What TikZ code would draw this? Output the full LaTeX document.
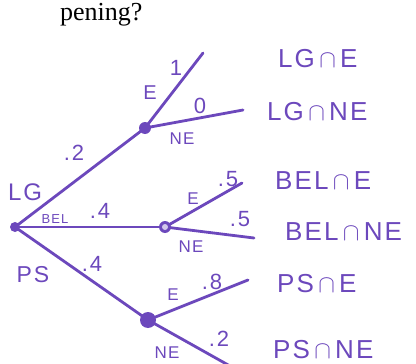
\documentclass[tikz,border=0pt]{standalone}
\usepackage{amsmath,amssymb}
\usepackage{fontspec}
\setmainfont{Liberation Serif}
\newfontfamily\handfont[LetterSpace=8]{Liberation Sans}
\usetikzlibrary{positioning}
\definecolor{PenPurple}{RGB}{108,72,188}
\newcommand{\outcome}[3]{%
  \node[leaf] (#1) at (#2) {#3};}

\begin{document}
\begin{tikzpicture}[x=1pt,y=-1pt,
  knot/.style={circle,fill=PenPurple,inner sep=0pt,minimum size=#1},
  knot/.default=10pt,
  branch/.style={PenPurple,line width=2.8pt,line cap=round},
  prob/.style={PenPurple,font=\handfont\fontsize{22}{22}\selectfont},
  tag/.style={PenPurple,font=\handfont\fontsize{17}{17}\selectfont},
  leaf/.style={PenPurple,anchor=base west,inner sep=0pt,
    font=\handfont\fontsize{26}{26}\selectfont}]
  \useasboundingbox (0,0) rectangle (416,364);
  \node[anchor=base west,inner sep=0pt,font=\fontsize{26}{26}\selectfont] (title) at (60,20) {pening?};
  % tree knots
  \node[knot=10pt] (root) at (15,227) {};
  \node[knot=12pt] (lg) at (145,128) {};
  \node[knot=12pt] (bel) at (165,227) {};
  \node[knot=16pt] (ps) at (148,320) {};
  \coordinate (lgE) at (203,53);
  \coordinate (lgNE) at (243,110);
  \coordinate (belE) at (242,183);
  \coordinate (belNE) at (254,238);
  \coordinate (psE) at (248,280);
  \coordinate (psNE) at (230,366);
  % branches
  \draw[branch] (root.center) -- (lg.center);
  \draw[branch] (root.center) -- (bel.center);
  \draw[branch] (root.center) -- (ps.center);
  \draw[branch] (lg.center) -- (lgE);
  \draw[branch] (lg.center) -- (lgNE);
  \draw[branch] (bel.center) -- (belE);
  \draw[branch] (bel.center) -- (belNE);
  \draw[branch] (ps.center) -- (psE);
  \draw[branch] (ps.center) -- (psNE);
  \fill[white!70!PenPurple] (bel.center) circle (3pt);
  % first stage labels
  \node[prob,font=\handfont\fontsize{24}{24}\selectfont] (lgTag) at (25,192) {LG};
  \node[prob] (lgP) at (74,153) {.2};
  \node[PenPurple,font=\handfont\fontsize{13}{13}\selectfont] (belTag) at (55,219) {BEL};
  \node[prob] (belP) at (100,211) {.4};
  \node[prob,font=\handfont\fontsize{23}{23}\selectfont] (psTag) at (33,275) {PS};
  \node[prob] (psP) at (92,264) {.4};
  % second stage labels
  \node[tag,font=\handfont\fontsize{20}{20}\selectfont] (lgEt) at (150,93) {E};
  \node[prob] (lgEp) at (176,68) {1};
  \node[prob] (lgNEp) at (200,106) {0};
  \node[tag] (lgNEt) at (182,139) {NE};
  \node[tag] (belEt) at (193,199) {E};
  \node[prob] (belEp) at (228,179) {.5};
  \node[prob] (belNEp) at (240,219) {.5};
  \node[tag] (belNEt) at (191,247) {NE};
  \node[tag] (psEt) at (173,295) {E};
  \node[prob] (psEp) at (212,282) {.8};
  \node[prob] (psNEp) at (219,339) {.2};
  \node[tag] (psNEt) at (167,353) {NE};
  % outcomes
  \outcome{oLGE}{278,67}{LG\,$\cap$\,E}
  \outcome{oLGNE}{267,121}{LG\,$\cap$\,NE}
  \outcome{oBELE}{275,189}{BEL\,$\cap$\,E}
  \outcome{oBELNE}{285,240}{BEL\,$\cap$\,NE}
  \outcome{oPSE}{277,292}{PS\,$\cap$\,E}
  \outcome{oPSNE}{273,358}{PS\,$\cap$\,NE}
\end{tikzpicture}
\end{document}
